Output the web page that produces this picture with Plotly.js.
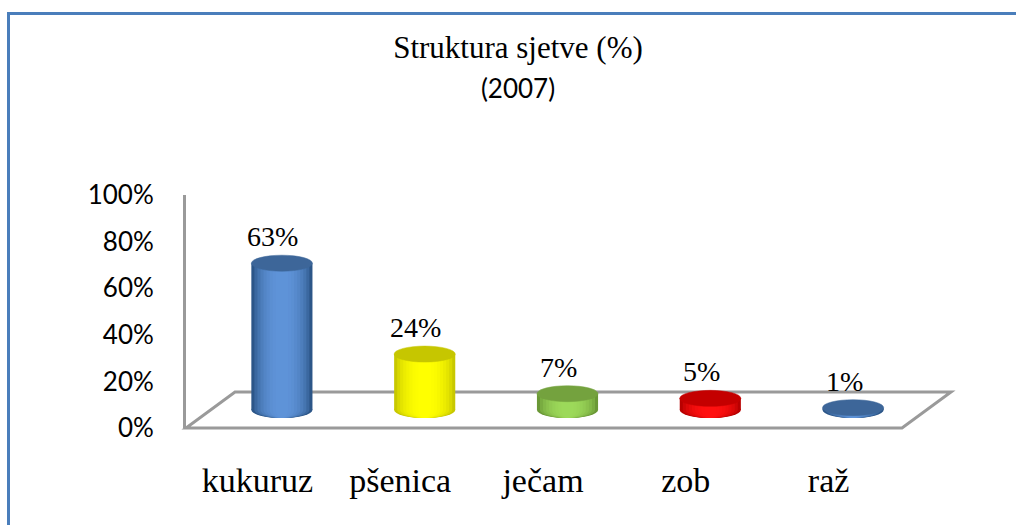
<!DOCTYPE html>
<html>
<head>
<meta charset="utf-8">
<script src="https://cdn.plot.ly/plotly-3.0.1.min.js"></script>
<style>html,body{margin:0;padding:0;background:#fff;overflow:hidden}#chart{width:1016px;height:525px}</style>
</head>
<body>
<div id="chart"></div>
<script>
// ---- data ----
const categories = ['kukuruz', 'pšenica', 'ječam', 'zob', 'raž'];
const values = [0.63, 0.24, 0.07, 0.05, 0.01];
const valueLabels = ['63%', '24%', '7%', '5%', '1%'];
const yTickVals = [0, 0.2, 0.4, 0.6, 0.8, 1];
const yTickText = ['0%', '20%', '40%', '60%', '80%', '100%'];
const titleLine1 = 'Struktura sjetve (%)';
const titleLine2 = '(2007)';

// ---- styles ----
const palettes = [
  {edge: '#2c5688', light: '#5e93d8', cap: '#3d6699'},
  {edge: '#c8c800', light: '#ffff00', cap: '#c6c600'},
  {edge: '#6a9836', light: '#9cd95a', cap: '#74a23e'},
  {edge: '#b80000', light: '#ff1010', cap: '#c40000'},
  {edge: '#2c5688', light: '#5e93d8', cap: '#3d6699'}
];
const W = 1016, H = 525;
const leftPx = 186, frontRightPx = 900, depthX = 49, depthY = 36, zeroPx = 428, fullPx = 195;
const pxPerCat = (frontRightPx - leftPx) / categories.length;
const pxPerUnit = zeroPx - fullPx;
const dx = depthX / pxPerCat;
const dy = depthY / pxPerUnit;
const xMax = categories.length - 0.5 + dx;
const baseY = dy / 2;
const halfW = 0.214;
const capH = 8 / pxPerUnit;
const layerFrac = [1, 0.9, 0.8, 0.7, 0.6, 0.5, 0.4, 0.3, 0.2];
const layerMix = [0, 0.3, 0.5, 0.65, 0.77, 0.86, 0.93, 0.97, 1];

function hexToRgb(h) { h = h.replace('#', ''); return [0, 2, 4].map(i => parseInt(h.substr(i, 2), 16)); }
function mix(a, b, t) {
  const A = hexToRgb(a), B = hexToRgb(b);
  return 'rgb(' + A.map((v, i) => Math.round(v + (B[i] - v) * t)).join(',') + ')';
}

const xs = categories.map((c, i) => i + dx / 2);

const traces = layerFrac.map((f, k) => ({
  type: 'bar',
  x: xs,
  y: values,
  base: values.map(() => baseY),
  width: values.map(() => 2 * halfW * f),
  marker: {color: palettes.map(p => mix(p.edge, p.light, layerMix[k])), line: {width: 0}},
  hoverinfo: 'skip',
  showlegend: false
}));

const px = v => v / W;
const py = v => 1 - v / H;

const shapes = [];
// outer frame (top and left edges visible)
shapes.push({type: 'line', xref: 'paper', yref: 'paper', x0: px(7), x1: 1, y0: py(13.5), y1: py(13.5),
  line: {color: '#4a7ebb', width: 3}, layer: 'below'});
shapes.push({type: 'line', xref: 'paper', yref: 'paper', x0: px(8.5), x1: px(8.5), y0: 0, y1: py(12),
  line: {color: '#4a7ebb', width: 3}, layer: 'below'});
// floor
shapes.push({type: 'path', xref: 'paper', yref: 'paper',
  path: `M ${px(leftPx)},${py(zeroPx)} L ${px(frontRightPx + 2)},${py(zeroPx)} L ${px(frontRightPx + 2 + depthX)},${py(zeroPx - depthY)} L ${px(leftPx + depthX)},${py(zeroPx - depthY)} Z`,
  line: {color: '#9a9a9a', width: 3}, fillcolor: 'rgba(0,0,0,0)', layer: 'below'});
// bottom rims of cylinders
values.forEach((v, i) => {
  layerFrac.forEach((f, k) => {
    shapes.push({type: 'circle', xref: 'x', yref: 'y',
      x0: xs[i] - halfW * f, x1: xs[i] + halfW * f, y0: baseY - capH, y1: baseY + capH,
      fillcolor: mix(palettes[i].edge, palettes[i].light, layerMix[k]), line: {width: 0}, layer: 'below'});
  });
});
// top caps
values.forEach((v, i) => {
  shapes.push({type: 'circle', xref: 'x', yref: 'y',
    x0: xs[i] - halfW, x1: xs[i] + halfW, y0: baseY + v - capH, y1: baseY + v + capH,
    fillcolor: palettes[i].cap, line: {color: palettes[i].cap, width: 0.5}, layer: 'above'});
});

const annotations = values.map((v, i) => ({
  xref: 'x', yref: 'y', x: xs[i], y: baseY + v + capH,
  text: valueLabels[i], showarrow: false, xanchor: 'center', yanchor: 'bottom',
  xshift: -9, yshift: 1,
  font: {family: 'Liberation Serif', size: 28, color: '#000'}
}));

const layout = {
  width: W, height: H,
  margin: {l: 0, r: 0, t: 0, b: 0},
  paper_bgcolor: '#fff', plot_bgcolor: 'rgba(0,0,0,0)',
  barmode: 'overlay',
  showlegend: false,
  title: {
    text: titleLine1 + '<br><span style="font-family:Lato;font-size:26px">' + titleLine2 + '</span>',
    font: {family: 'Liberation Serif', size: 31, color: '#000'},
    x: 518 / W, xanchor: 'center', xref: 'paper',
    y: py(58), yanchor: 'top', yref: 'paper'
  },
  xaxis: {
    domain: [px(leftPx), px(frontRightPx + depthX)],
    range: [-0.5, xMax],
    tickmode: 'array', tickvals: categories.map((c, i) => i), ticktext: categories,
    ticks: 'outside', ticklen: 22, tickcolor: 'rgba(0,0,0,0)', tickangle: 0,
    tickfont: {family: 'Liberation Serif', size: 34, color: '#000'},
    showgrid: false, zeroline: false, showline: false, fixedrange: true
  },
  yaxis: {
    domain: [py(zeroPx), py(fullPx)],
    range: [0, 1],
    tickmode: 'array', tickvals: yTickVals, ticktext: yTickText,
    ticks: 'outside', ticklen: 24, tickcolor: 'rgba(0,0,0,0)',
    tickfont: {family: 'Lato', size: 26, color: '#000'},
    showgrid: false, zeroline: false, showline: true, linecolor: '#9a9a9a', linewidth: 3, fixedrange: true
  },
  shapes: shapes,
  annotations: annotations
};

Plotly.newPlot('chart', traces, layout, {staticPlot: true, displayModeBar: false});
</script>
</body>
</html>
